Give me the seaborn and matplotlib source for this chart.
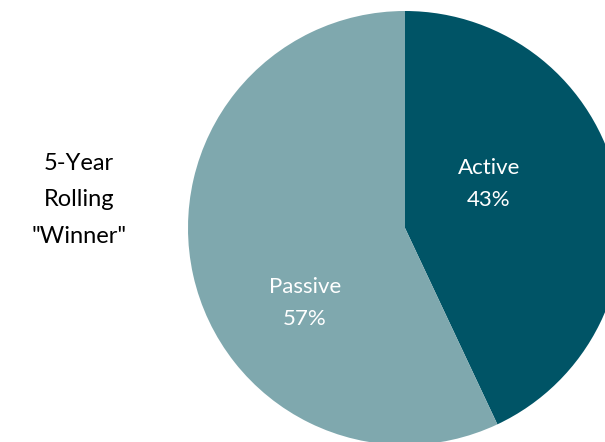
import matplotlib
matplotlib.use("Agg")
import matplotlib.pyplot as plt
import seaborn as sns

# Share of 5-year rolling periods won by each style
labels = ["Active", "Passive"]
shares = [43, 57]
colors = ["#005466", "#7FA8AE"]

sns.set_theme(style="white")
plt.rcParams["font.family"] = ["Lato", "DejaVu Sans"]

fig = plt.figure(figsize=(6.05, 4.42), dpi=100)
ax = fig.add_axes([0, 0, 1, 1])

# pie in pixel-like data units so it can be clipped like the original
wedges, texts = ax.pie(
    shares, colors=sns.color_palette(colors), startangle=90, counterclock=False,
    center=(405, 214), radius=217,
    wedgeprops=dict(linewidth=0),
)
ax.set_xlim(0, 605)
ax.set_ylim(0, 442)
ax.set_aspect("equal")
ax.axis("off")

label_pos = [(489, 258), (305, 139)]
for lab, val, (x, y) in zip(labels, shares, label_pos):
    ax.text(x, y, f"{lab}\n{val}%", color="white", ha="center", va="center",
            fontsize=16, linespacing=1.78)

ax.text(79, 242, "5-Year\nRolling\n\"Winner\"", color="black", ha="center", va="center",
        fontsize=17, linespacing=1.92)

fig.savefig("out.png", dpi=100)
